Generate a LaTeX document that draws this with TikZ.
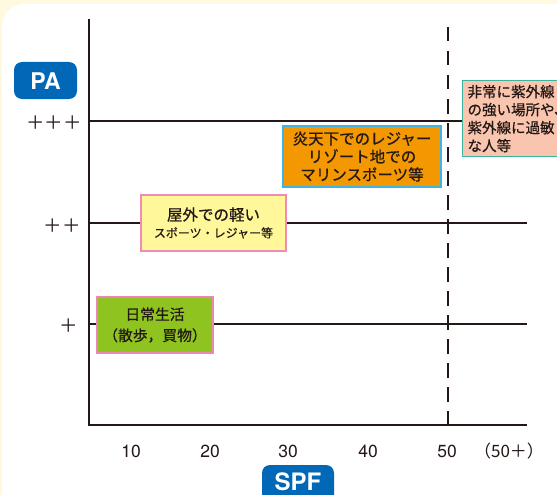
\documentclass[tikz,border=0pt]{standalone}
\usepackage{fontspec}
\setmainfont{TeX Gyre Heros}
\newfontfamily\jp[FakeBold=0.6]{Noto Sans CJK JP}
\newfontfamily\jpplain{Noto Sans CJK JP}
\definecolor{cream}{HTML}{FEF9DF}
\definecolor{ink}{HTML}{231815}
\definecolor{badge}{HTML}{0068B7}
\definecolor{orangefill}{HTML}{F39800}
\definecolor{orangeedge}{HTML}{3CB4E6}
\definecolor{salmonfill}{HTML}{F9C5AE}
\definecolor{salmonedge}{HTML}{3CB49B}
\definecolor{yellowfill}{HTML}{FFF799}
\definecolor{yellowedge}{HTML}{F08CB4}
\definecolor{greenfill}{HTML}{8FC31F}
\definecolor{greenedge}{HTML}{EE86B3}
\begin{document}
\begin{tikzpicture}[x=1pt,y=-1pt,
  axisline/.style={draw=ink,line width=2.8pt},
  levelline/.style={draw=ink,line width=2.5pt},
  limitline/.style={draw=ink,line width=2.6pt,dash pattern=on 14.5pt off 9.5pt},
  badgebox/.style={fill=badge,rounded corners=8pt},
  badgetext/.style={text=white,font=\bfseries\fontsize{23}{23}\selectfont,inner sep=0pt},
  ticklabel/.style={text=ink,font=\jpplain\fontsize{18.5}{18.5}\selectfont,anchor=east,inner sep=0pt},
  xlabel/.style={text=ink,font=\fontsize{17.5}{17.5}\selectfont,inner sep=0pt},
  catbox/.style={line width=1.2pt,inner sep=0pt,align=center,text=ink}
]
\clip (0,0) rectangle (557,495);
\fill[cream] (0,0) rectangle (557,495);
\fill[white,rounded corners=22pt] (2,4) rectangle (640,580);

% axes
\coordinate (ytop) at (89,19);
\coordinate (origin) at (89,425);
\coordinate (xend) at (527,425);
\coordinate (l3a) at (89,121); \coordinate (l3b) at (527,121);
\coordinate (l2a) at (89,223); \coordinate (l2b) at (527,223);
\coordinate (l1a) at (89,324); \coordinate (l1b) at (527,324);
\coordinate (dtop) at (448,27); \coordinate (dbot) at (448,425);

\draw[levelline] (l3a) -- (l3b);
\draw[levelline] (l2a) -- (l2b);
\draw[levelline] (l1a) -- (l1b);
\draw[limitline] (dtop) -- (dbot);
\draw[axisline] (ytop) -- (origin) -- (xend);

% badges
\path[badgebox] (14,62) rectangle (77,99);
\node[badgetext] (pa) at (45.5,81) {PA};
\path[badgebox] (262,465) rectangle (334,520);
\node[badgetext,font=\bfseries\fontsize{24}{24}\selectfont] (spf) at (298,482) {SPF};

% tick labels
\node[ticklabel] (t3) at (82,123) {＋＋＋};
\node[ticklabel] (t2) at (81,226) {＋＋};
\node[ticklabel] (t1) at (78,326) {＋};

% x labels
\node[xlabel] (x10) at (131,451) {10};
\node[xlabel] (x20) at (210,451) {20};
\node[xlabel] (x30) at (288,451) {30};
\node[xlabel] (x40) at (368,451) {40};
\node[xlabel] (x50) at (447,451) {50};
\node[xlabel,font=\jpplain\fontsize{17}{17}\selectfont] (x50p) at (509,451) {（50＋）};

% category boxes
\node[catbox,fill=salmonfill,draw=salmonedge,anchor=north west,minimum width=140pt,minimum height=76pt,
      font=\jp\fontsize{14.5}{18}\selectfont,align=left,text width=130pt,inner xsep=4pt] (uv) at (462,80)
  {非常に紫外線\\の強い場所や、\\紫外線に過敏\\な人等};
\node[catbox,fill=orangefill,draw=orangeedge,minimum width=158pt,minimum height=61pt,
      font=\jp\fontsize{15.5}{18}\selectfont] (beach) at (362,156.5)
  {炎天下でのレジャー\\リゾート地での\\マリンスポーツ等};
\node[catbox,fill=yellowfill,draw=yellowedge,minimum width=145pt,minimum height=56pt] (light) at (213.5,223)
  {{\jp\fontsize{15.5}{15.5}\selectfont 屋外での軽い}\\[5pt]{\jp\fontsize{12}{12}\selectfont スポーツ・レジャー等}};
\node[catbox,fill=greenfill,draw=greenedge,minimum width=116pt,minimum height=56pt,
      font=\jp\fontsize{14.8}{21}\selectfont] (daily) at (155,325)
  {日常生活\\（散歩，買物）};
\end{tikzpicture}
\end{document}
